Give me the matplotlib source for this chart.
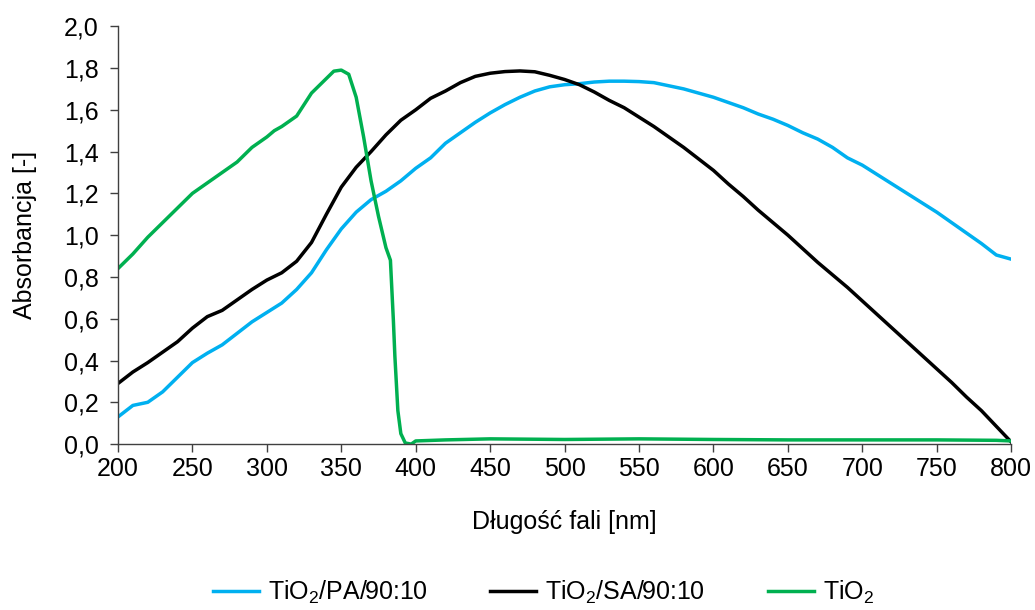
import numpy as np
import matplotlib
matplotlib.use("Agg")
import matplotlib.pyplot as plt
from matplotlib.ticker import FuncFormatter

plt.rcParams['font.family'] = ['Liberation Sans', 'DejaVu Sans']
plt.rcParams['mathtext.fontset'] = 'custom'
plt.rcParams['mathtext.rm'] = 'Liberation Sans'
plt.rcParams['mathtext.it'] = 'Liberation Sans'

# dane
wl = [200, 210, 220, 230, 240, 250, 260, 270, 280, 290, 300, 310, 320, 330, 340,
      350, 360, 370, 380, 390, 400, 410, 420, 430, 440, 450, 460, 470, 480, 490,
      500, 510, 520, 530, 540, 550, 560, 570, 580, 590, 600, 610, 620, 630, 640,
      650, 660, 670, 680, 690, 700, 710, 720, 730, 740, 750, 760, 770, 780, 790,
      800]
pa = [0.13, 0.185, 0.20, 0.25, 0.32, 0.39, 0.435, 0.475, 0.53, 0.585, 0.63, 0.675, 0.74, 0.82, 0.93,
      1.03, 1.11, 1.17, 1.21, 1.26, 1.32, 1.37, 1.44, 1.49, 1.54, 1.585, 1.625, 1.66, 1.69, 1.71,
      1.72, 1.725, 1.733, 1.737, 1.737, 1.735, 1.73, 1.715, 1.70, 1.68, 1.66, 1.635, 1.61, 1.58, 1.555,
      1.525, 1.49, 1.46, 1.42, 1.37, 1.335, 1.29, 1.245, 1.20, 1.155, 1.11, 1.06, 1.01, 0.96, 0.905,
      0.885]
sa = [0.29, 0.345, 0.39, 0.44, 0.49, 0.555, 0.61, 0.64, 0.69, 0.74, 0.785, 0.82, 0.875, 0.965, 1.10,
      1.23, 1.325, 1.40, 1.48, 1.55, 1.60, 1.655, 1.69, 1.73, 1.76, 1.775, 1.783, 1.786, 1.782, 1.765,
      1.745, 1.72, 1.685, 1.645, 1.61, 1.565, 1.52, 1.47, 1.42, 1.365, 1.31, 1.245, 1.185, 1.12, 1.06,
      1.0, 0.935, 0.87, 0.81, 0.75, 0.685, 0.62, 0.555, 0.49, 0.425, 0.36, 0.295, 0.225, 0.16, 0.085,
      0.01]

wl_tio2 = [200, 210, 220, 230, 240, 250, 260, 270, 280, 290, 300, 305, 310, 320, 330,
           340, 345, 350, 355, 360, 365, 370, 375, 380, 383, 385, 386, 388, 390, 393,
           397, 400, 420, 450, 500, 550, 600, 650, 700, 750, 790, 800]
tio2 = [0.84, 0.91, 0.99, 1.06, 1.13, 1.20, 1.25, 1.30, 1.35, 1.42, 1.47, 1.50, 1.52, 1.57, 1.68,
        1.75, 1.785, 1.79, 1.77, 1.66, 1.47, 1.26, 1.09, 0.94, 0.88, 0.59, 0.42, 0.16, 0.05, 0.005,
        0.0, 0.015, 0.02, 0.025, 0.022, 0.025, 0.022, 0.02, 0.02, 0.02, 0.018, 0.015]


fig = plt.figure(figsize=(10.35, 6.1), dpi=100)
ax = fig.add_axes([0.114, 0.272, 0.863, 0.685])

ax.plot(wl, pa, color='#00B0F0', lw=2.5, label='TiO$_2$/PA/90:10')
ax.plot(wl, sa, color='black', lw=2.5, label='TiO$_2$/SA/90:10')
ax.plot(wl_tio2, tio2, color='#00B050', lw=2.5, label='TiO$_2$')

ax.set_xlim(200, 800)
ax.set_ylim(0, 2.0)
ax.set_xticks(np.arange(200, 801, 50))
ax.set_yticks(np.arange(0, 2.01, 0.2))
ax.yaxis.set_major_formatter(FuncFormatter(lambda v, p: ('%.1f' % v).replace('.', ',')))

for s in ['top', 'right']:
    ax.spines[s].set_visible(False)
for s in ['left', 'bottom']:
    ax.spines[s].set_color('#404040')
    ax.spines[s].set_linewidth(1.0)
ax.tick_params(direction='out', length=6, width=1.0, color='#404040', labelsize=18, pad=3)
ax.tick_params(axis='y', pad=8)

ax.set_xlabel('Długość fali [nm]', fontsize=18, labelpad=21)
ax.set_ylabel('Absorbancja [-]', fontsize=18, labelpad=19)

fig.legend(loc='lower center', ncol=3, frameon=False, fontsize=18,
           bbox_to_anchor=(0.525, -0.03), handlelength=1.85, handletextpad=0.35,
           columnspacing=2.5)

fig.savefig('out.png', dpi=100)
